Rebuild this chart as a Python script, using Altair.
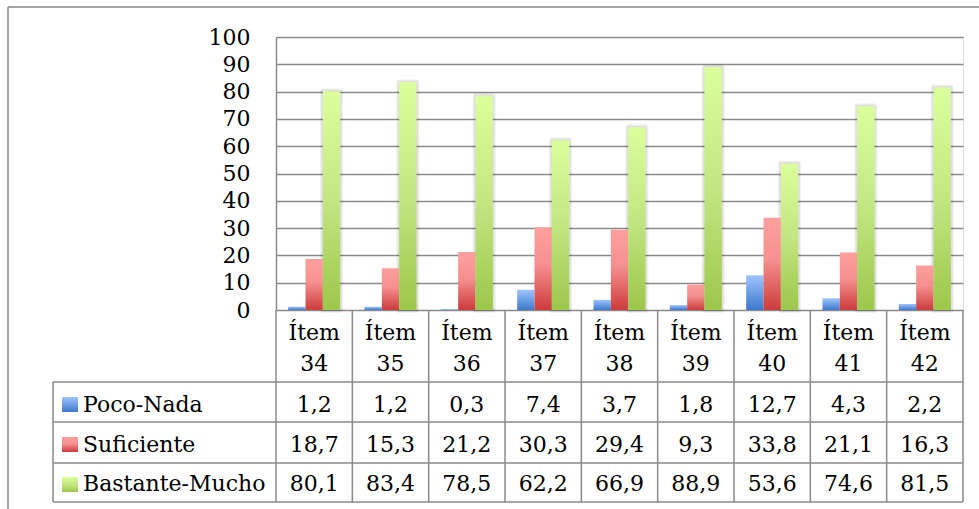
import altair as alt
import pandas as pd

# ---- data -------------------------------------------------------------
items = ["Ítem 34", "Ítem 35", "Ítem 36", "Ítem 37", "Ítem 38",
         "Ítem 39", "Ítem 40", "Ítem 41", "Ítem 42"]
series = ["Poco-Nada", "Suficiente", "Bastante-Mucho"]
poco_nada = [1.2, 1.2, 0.3, 7.4, 3.7, 1.8, 12.7, 4.3, 2.2]
suficiente = [18.7, 15.3, 21.2, 30.3, 29.4, 9.3, 33.8, 21.1, 16.3]
bastante_mucho = [80.1, 83.4, 78.5, 62.2, 66.9, 88.9, 53.6, 74.6, 81.5]
y_ticks = list(range(0, 101, 10))

# ---- layout / style ---------------------------------------------------
W, H = 687, 273                      # plot area
FONT = "DejaVu Serif"
FS = 22
LINE = "#8a8a8a"
LW = 1.5
TABLE_LEFT = -223                    # left edge of the legend column
TABLE_BOTTOM = 465
ROW_LINES = [345, 385, 426, 465]     # horizontal lines of the data table
ROW_BASELINES = [375, 415, 454]      # text baselines of the three value rows
SWATCH_TOPS = [360, 400, 440]


def gradient(stops):
    return {
        "gradient": "linear",
        "x1": 0, "x2": 0, "y1": 0, "y2": 1,
        "stops": [{"offset": o, "color": c} for o, c in stops],
    }


fills = {
    "Poco-Nada": gradient([(0, "#9fc4ff"), (1, "#3b79cd")]),
    "Suficiente": gradient([(0, "#ff9f9d"), (0.45, "#f59190"), (1, "#cd3b3b")]),
    "Bastante-Mucho": gradient([(0, "#dcff9d"), (0.5, "#c3e682"), (1, "#9cc74a")]),
}

values_by_series = dict(zip(series, [poco_nada, suficiente, bastante_mucho]))
rows = []
for s, vals in values_by_series.items():
    for it, v in zip(items, vals):
        rows.append({"item": it, "serie": s, "valor": v,
                     "etiqueta": f"{v:.1f}".replace(".", ",")})
df = pd.DataFrame(rows)

df_items = pd.DataFrame({
    "item": items,
    "palabra": [i.split(" ")[0] for i in items],
    "numero": [i.split(" ")[1] for i in items],
})
one = pd.DataFrame({"k": [0]})

x_scale = alt.Scale(domain=items, paddingInner=0, paddingOuter=0)
x_enc = alt.X("item:N", sort=items, scale=x_scale, axis=None)
x_off = alt.XOffset("serie:N", sort=series,
                    scale=alt.Scale(domain=series, paddingInner=0, paddingOuter=0.7))
y_axis = alt.Axis(values=y_ticks, format="d", title=None,
                  labelFont=FONT, labelFontSize=FS, labelColor="black",
                  ticks=False, tickSize=0, labelPadding=26,
                  domainColor=LINE, domainWidth=LW,
                  gridColor=LINE, gridWidth=LW)
y_enc = alt.Y("valor:Q", scale=alt.Scale(domain=[0, 100], nice=False), axis=y_axis)

layers = []

# soft shadow around the tallest series (outer half of a wide stroke)
for sw, op in [(6, 0.05), (3.5, 0.07)]:
    layers.append(
        alt.Chart(df[df.serie == "Bastante-Mucho"])
        .mark_bar(color="black", fillOpacity=0, stroke="black",
                  strokeWidth=sw, strokeOpacity=op, strokeJoin="round")
        .encode(x=x_enc, xOffset=x_off, y=y_enc)
    )

# the bars, one layer per series (each with its own gradient fill)
for s in series:
    layers.append(
        alt.Chart(df[df.serie == s]).mark_bar(color=fills[s])
        .encode(x=x_enc, xOffset=x_off, y=y_enc)
    )

# ---- data table below the plot -----------------------------------------
def hrule(y, x0=TABLE_LEFT, x1=W):
    return alt.Chart(one).mark_rule(color=LINE, strokeWidth=LW).encode(
        x=alt.value(x0), x2=alt.value(x1), y=alt.value(y))


def vrule(x, y0, y1):
    return alt.Chart(one).mark_rule(color=LINE, strokeWidth=LW).encode(
        x=alt.value(x), y=alt.value(y0), y2=alt.value(y1))


for y in ROW_LINES:
    layers.append(hrule(y))

layers.append(
    alt.Chart(df_items).mark_rule(color=LINE, strokeWidth=LW).encode(
        x=alt.X("item:N", sort=items, scale=x_scale, axis=None, bandPosition=0),
        y=alt.value(H), y2=alt.value(TABLE_BOTTOM))
)
layers.append(vrule(W, H, TABLE_BOTTOM))
layers.append(vrule(TABLE_LEFT, ROW_LINES[0], TABLE_BOTTOM))

# category header ("Ítem" / number)
for field, yb in [("palabra", 303), ("numero", 334)]:
    layers.append(
        alt.Chart(df_items).mark_text(font=FONT, fontSize=FS, color="black",
                                      align="center", baseline="alphabetic")
        .encode(x=x_enc, y=alt.value(yb), text=f"{field}:N")
    )

# value rows with legend keys
for s, yb, top in zip(series, ROW_BASELINES, SWATCH_TOPS):
    layers.append(
        alt.Chart(df[df.serie == s]).mark_text(font=FONT, fontSize=FS, color="black",
                                               align="center", baseline="alphabetic")
        .encode(x=x_enc, y=alt.value(yb), text="etiqueta:N")
    )
    key = pd.DataFrame({"serie": [s]})
    layers.append(
        alt.Chart(key).mark_rect(color=fills[s]).encode(
            x=alt.value(-214), x2=alt.value(-198),
            y=alt.value(top), y2=alt.value(top + 15))
    )
    layers.append(
        alt.Chart(key).mark_text(font=FONT, fontSize=FS, color="black",
                                 align="left", baseline="alphabetic")
        .encode(x=alt.value(-193), y=alt.value(yb), text="serie:N")
    )

# outer chart frame
layers.append(hrule(-30, -268, W + 40))
layers.append(vrule(-268, -30, TABLE_BOTTOM + 40))

chart = (
    alt.layer(*layers)
    .properties(width=W, height=H,
                autosize=alt.AutoSizeParams(type="none"),
                padding={"left": 276, "top": 37, "right": 16, "bottom": 199})
    .configure_view(stroke=None)
    .configure(background="white")
)

chart.save("out.html", embed_options={"renderer": "svg", "actions": False})
